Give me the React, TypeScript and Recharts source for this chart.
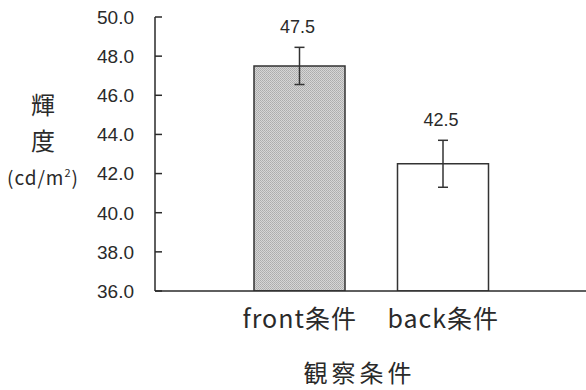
import React from "react";
import { BarChart, Bar, XAxis, YAxis, ErrorBar, Cell, LabelList, Label } from "recharts";

const conditions = ["front条件", "back条件"];
const meanLuminance = [47.5, 42.5];
const errorValues = [0.95, 1.2];
const yTicks = [36, 38, 40, 42, 44, 46, 48, 50];
const barFills = ["url(#dotFill)", "#ffffff"];

const chartData = conditions.map((name, i) => ({
  name,
  value: meanLuminance[i],
  err: errorValues[i],
}));

const numFont = '"Liberation Sans", Arial, sans-serif';
const jpFont = '"Noto Sans CJK JP", sans-serif';
const ink = "#2a2a2a";

function YTick(props: any) {
  const { x, y, payload } = props;
  const axisX = x + 21;
  return (
    <g>
      <line x1={axisX} x2={axisX + 7} y1={y} y2={y} stroke={ink} strokeWidth={1.5} />
      <text x={x} y={y} dy="0.36em" textAnchor="end" fontSize={19} fontFamily={numFont} fill={ink}>
        {Number(payload.value).toFixed(1)}
      </text>
    </g>
  );
}

function XTick(props: any) {
  const { x, y, payload } = props;
  return (
    <text x={x} y={y} dy={29} textAnchor="middle" fontSize={25} letterSpacing={1} fontFamily={jpFont} fill={ink}>
      {payload.value}
    </text>
  );
}

function YTitle(props: any) {
  const { viewBox } = props;
  const cx = viewBox.x + 43;
  return (
    <g fill={ink} fontFamily={jpFont} textAnchor="middle">
      <text x={cx} y={114} fontSize={24}>輝</text>
      <text x={cx} y={150} fontSize={24}>度</text>
      <text x={cx} y={185} fontSize={19} letterSpacing={1}>
        (cd/m<tspan fontSize={11} dy={-8}>2</tspan>
        <tspan dy={8}>)</tspan>
      </text>
    </g>
  );
}

function ValueLabel(props: any) {
  const { x, y, width, height, value, index } = props;
  const pxPerUnit = height / (value - yTicks[0]);
  const errTop = y - errorValues[index] * pxPerUnit;
  return (
    <text x={x + width / 2 - 2} y={errTop - 14} textAnchor="middle" fontSize={18} fontFamily={numFont} fill={ink}>
      {Number(value).toFixed(1)}
    </text>
  );
}

export default function App() {
  return (
    <div style={{ position: "absolute", left: 0, top: 0, background: "#fff" }}>
      <BarChart width={586} height={390} data={chartData} margin={{ top: 17, right: 0, bottom: 0, left: 0 }}>
        <defs>
          <pattern id="dotFill" width="2" height="2" patternUnits="userSpaceOnUse">
            <rect width="2" height="2" fill="#d6d6d6" />
            <rect width="1" height="1" fill="#acacac" />
            <rect x="1" y="1" width="1" height="1" fill="#b4b4b4" />
          </pattern>
        </defs>
        <XAxis
          dataKey="name"
          height={99}
          padding={{ left: 73, right: 71 }}
          axisLine={{ stroke: ink, strokeWidth: 1.5 }}
          tickLine={false}
          tick={<XTick />}
          interval={0}
        >
          <Label value="観察条件" position="insideBottom" offset={8} dx={-11} fontSize={24} fontFamily={jpFont} fill={ink} letterSpacing={4} />
        </XAxis>
        <YAxis
          width={155}
          domain={[36, 50]}
          ticks={yTicks}
          interval={0}
          allowDataOverflow
          axisLine={{ stroke: ink, strokeWidth: 1.5 }}
          tickLine={false}
          tickSize={0}
          tickMargin={21}
          tick={<YTick />}
        >
          <Label content={<YTitle />} />
        </YAxis>
        <Bar dataKey="value" barSize={91} stroke="#333" strokeWidth={1.5} isAnimationActive={false}>
          {chartData.map((d, i) => (
            <Cell key={d.name} fill={barFills[i]} />
          ))}
          <ErrorBar dataKey="err" direction="y" width={5} stroke="#333" strokeWidth={1.5} />
          <LabelList dataKey="value" content={<ValueLabel />} />
        </Bar>
      </BarChart>
    </div>
  );
}
